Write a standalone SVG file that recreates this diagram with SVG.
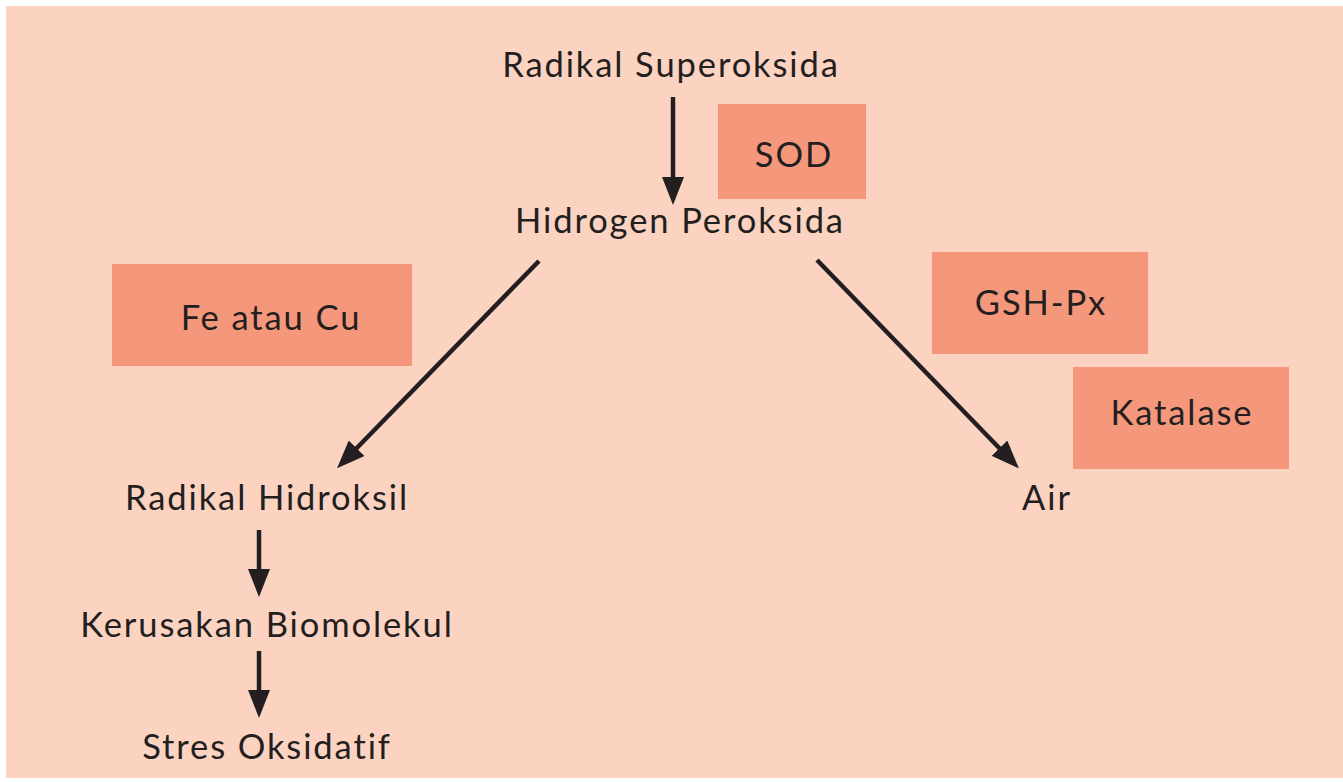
<svg xmlns="http://www.w3.org/2000/svg" width="1343" height="782" viewBox="0 0 1343 782">
<style>
.t{font-family:Lato,"Open Sans","Liberation Sans",sans-serif;font-size:34.5px;letter-spacing:1.9px;fill:#231F20;text-anchor:middle}
.box{fill:#F5977A}
.c{stroke:#231F20;stroke-width:4.5;fill:none;marker-end:url(#ah)}
</style>
<defs>
<marker id="ah" markerUnits="userSpaceOnUse" markerWidth="28" markerHeight="22" refX="8" refY="11" orient="auto">
<path d="M0,0 L28,11 L0,22 Z" fill="#231F20"/>
</marker>
</defs>
<rect x="6" y="6" width="1337" height="772" fill="#FCD3C1"/>
<g id="connectors">
<line class="c" x1="673" y1="97" x2="673" y2="185"/>
<line class="c" x1="539" y1="261" x2="351" y2="454"/>
<line class="c" x1="817" y1="260" x2="1005" y2="454"/>
<line class="c" x1="259" y1="530" x2="259" y2="577"/>
<line class="c" x1="259" y1="651" x2="259" y2="698"/>
</g>
<g id="radikal-superoksida"><text class="t" x="671" y="77">Radikal Superoksida</text></g>
<g id="sod"><rect class="box" x="718" y="104" width="148" height="95"/><text class="t" x="794" y="167">SOD</text></g>
<g id="hidrogen-peroksida"><text class="t" x="680" y="233">Hidrogen Peroksida</text></g>
<g id="fe-cu"><rect class="box" x="112" y="264" width="300" height="102"/><text class="t" x="271" y="330">Fe atau Cu</text></g>
<g id="gsh-px"><rect class="box" x="932" y="252" width="216" height="102"/><text class="t" x="1041" y="315">GSH-Px</text></g>
<g id="katalase"><rect class="box" x="1073" y="367" width="216" height="102"/><text class="t" x="1182" y="425">Katalase</text></g>
<g id="radikal-hidroksil"><text class="t" x="267" y="510">Radikal Hidroksil</text></g>
<g id="air"><text class="t" x="1047" y="510">Air</text></g>
<g id="kerusakan-biomolekul"><text class="t" x="267" y="637">Kerusakan Biomolekul</text></g>
<g id="stres-oksidatif"><text class="t" x="267" y="759">Stres Oksidatif</text></g>
</svg>
